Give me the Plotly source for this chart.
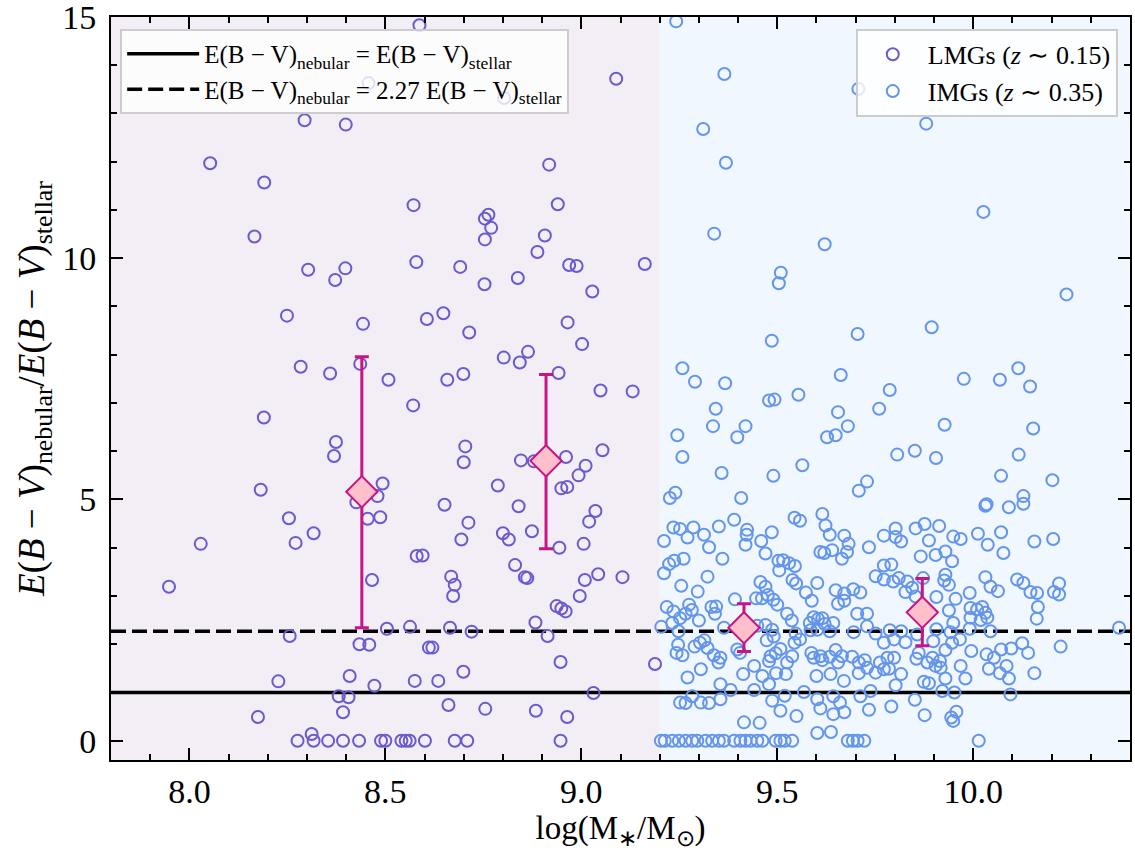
import plotly.graph_objects as go

# Axis limits and the mass split between the two samples
x_range = [7.8, 10.4]
y_range = [-0.4, 15.0]
mass_split = 9.2

# Low-mass galaxies (z ~ 0.15): log stellar mass and colour-excess ratio
lmg_x = [
    8.587, 8.457, 8.803, 9.089, 8.294, 8.399, 8.053, 8.191, 8.918, 8.572,
    8.940, 8.763, 8.754, 8.770, 8.754, 8.166, 8.907, 8.888, 8.303, 8.372,
    8.398, 8.579, 8.691, 8.753, 8.838, 8.969, 8.988, 9.162, 9.028, 8.249,
    8.443, 8.606, 8.648, 8.714, 8.965, 9.002, 8.284, 8.359, 8.436, 8.508,
    8.658, 8.699, 8.802, 8.843, 8.864, 8.942, 9.049, 9.131,
    8.571, 8.190, 8.374, 8.369, 8.704, 8.700, 8.846, 8.879, 8.961, 9.054,
    9.011, 8.993, 8.787, 8.949, 8.964, 8.182, 8.493, 8.480, 8.426, 8.455,
    8.487, 8.651, 8.840, 9.036, 9.020, 8.254, 8.317, 8.271, 8.029,
    8.712, 8.694, 8.800, 8.815, 8.874, 8.944, 9.006, 8.580, 8.595, 7.948,
    8.466, 8.668, 8.677, 8.673, 8.831, 8.856, 8.862, 9.009, 9.043, 9.105,
    8.996, 8.937, 8.949, 8.960, 8.883, 8.504, 8.563, 8.665, 8.720, 8.256,
    8.914, 8.434, 8.459, 8.611, 8.620, 8.947, 9.188, 8.409, 8.699, 8.227,
    8.575, 8.635, 8.472, 8.381, 8.406, 9.031, 8.661, 8.392, 8.755, 8.884,
    8.964, 8.175, 8.312,
    8.276, 8.317, 8.354, 8.392, 8.433, 8.489, 8.500, 8.541, 8.552, 8.562,
    8.601, 8.677, 8.709, 8.947,
]
lmg_y = [
    14.83, 13.63, 13.32, 13.72, 12.86, 12.77, 11.97, 11.57, 11.94, 11.10,
    11.12, 10.90, 10.82, 10.63, 10.39, 10.45, 10.47, 10.13, 9.76, 9.55,
    9.79, 9.92, 9.82, 9.46, 9.59, 9.86, 9.84, 9.88, 9.31, 8.81,
    8.64, 8.74, 8.86, 8.46, 8.67, 8.22, 7.75, 7.61, 7.81, 7.48,
    7.48, 7.60, 7.94, 7.84, 8.06, 7.62, 7.26, 7.24,
    6.95, 6.70, 6.19, 5.90, 6.10, 5.77, 5.81, 5.79, 5.88, 6.02,
    5.70, 5.50, 5.29, 5.23, 5.26, 5.20, 5.33, 5.07, 4.94, 4.60,
    4.63, 4.89, 4.86, 4.76, 4.54, 4.61, 4.30, 4.10, 4.08,
    4.52, 4.17, 4.30, 4.17, 4.34, 4.00, 4.08, 3.83, 3.84, 3.19,
    3.33, 3.40, 3.23, 3.00, 3.64, 3.39, 3.37, 3.33, 3.45, 3.39,
    3.00, 2.79, 2.74, 2.68, 2.45, 2.32, 2.36, 2.34, 2.26, 2.17,
    2.17, 2.00, 1.99, 1.93, 1.93, 1.63, 1.59, 1.34, 1.43, 1.23,
    1.24, 1.24, 1.14, 0.92, 0.90, 0.99, 0.74, 0.59, 0.66, 0.62,
    0.49, 0.49, 0.14,
    0.0, 0.0, 0.0, 0.0, 0.0, 0.0, 0.0, 0.0, 0.0, 0.0,
    0.0, 0.0, 0.0, 0.0,
]

# Intermediate-mass galaxies (z ~ 0.35)
img_x = [
    # upper part of the panel
    9.242, 9.365, 9.311, 9.369, 9.880, 9.339, 9.621, 10.026, 9.509, 9.504,
    10.238, 9.486, 9.705, 9.894, 9.258, 9.290, 9.367, 9.662, 9.976, 10.068,
    10.115, 10.145, 9.343, 9.479, 9.493, 9.554, 9.787, 9.655, 9.760, 9.707,
    # 9.2 < log M < 9.77
    9.245, 9.336, 9.398, 9.419, 9.258, 9.358, 9.490, 9.564, 9.627, 9.649,
    9.680, 9.729, 9.708, 9.226, 9.240, 9.408, 9.544, 9.558, 9.615, 9.390,
    9.351, 9.235, 9.252, 9.286, 9.271, 9.313, 9.211, 9.326, 9.423, 9.422,
    9.419, 9.459, 9.486, 9.470, 9.360, 9.623, 9.634, 9.671, 9.682, 9.610,
    9.620, 9.640, 9.678, 9.665, 9.734, 9.211, 9.224, 9.237, 9.261, 9.503,
    9.515, 9.530, 9.545, 9.505, 9.539, 9.548, 9.322, 9.255, 9.297, 9.457,
    9.470, 9.476, 9.461, 9.490, 9.500, 9.446, 9.392, 9.344, 9.602, 9.588,
    9.573, 9.649, 9.671, 9.671, 9.655, 9.694, 9.712, 9.751, 9.729, 9.704,
    9.218, 9.235, 9.275, 9.282, 9.252, 9.266, 9.332, 9.341, 9.300, 9.204,
    9.232, 9.248, 9.525, 9.537, 9.593, 9.604, 9.615, 9.621, 9.583, 9.585,
    9.602, 9.634, 9.643, 9.364, 9.449, 9.470, 9.487, 9.491, 9.473, 9.547,
    9.558, 9.544, 9.695, 9.729, 9.751, 9.247, 9.258, 9.243, 9.289, 9.303,
    9.314, 9.322, 9.338, 9.350, 9.355, 9.398, 9.405, 9.483, 9.479, 9.496,
    9.508, 9.538, 9.525, 9.587, 9.593, 9.610, 9.615, 9.634, 9.649, 9.665,
    9.655, 9.691, 9.708, 9.723, 9.729, 9.751, 9.762, 9.271, 9.305, 9.413,
    9.441, 9.462, 9.497, 9.522, 9.600, 9.636, 9.670, 9.708, 9.355, 9.381,
    9.441, 9.479, 9.519, 9.568, 9.602, 9.643, 9.660, 9.712, 9.738, 9.252,
    9.266, 9.283, 9.305, 9.326, 9.355, 9.487, 9.508, 9.549, 9.610, 9.643,
    9.671, 9.734, 9.415, 9.455, 9.602, 9.637,
    9.203, 9.213, 9.232, 9.249, 9.266, 9.283, 9.296, 9.317, 9.334, 9.351,
    9.364, 9.390, 9.406, 9.419, 9.432, 9.449, 9.462, 9.496, 9.508, 9.519,
    9.538, 9.680, 9.693, 9.705, 9.722,
    # log M > 9.77
    9.927, 10.153, 9.806, 9.851, 9.905, 10.116, 10.071, 10.202, 10.031, 10.034,
    10.091, 10.128, 10.128, 9.772, 9.802, 9.802, 9.816, 9.853, 9.876, 9.913,
    9.887, 9.949, 9.968, 10.012, 10.071, 10.037, 10.077, 10.156, 10.204, 9.866,
    9.904, 9.929, 9.946, 9.772, 9.791, 9.772, 9.796, 9.810, 9.832, 9.827,
    9.844, 9.853, 9.872, 9.929, 9.926, 9.938, 9.906, 9.955, 9.991, 10.031,
    10.044, 10.063, 10.112, 10.128, 10.146, 10.163, 10.165, 10.162, 10.206, 10.219,
    10.219, 9.938, 9.993, 10.010, 10.023, 10.031, 10.036, 10.019, 9.993, 9.949,
    9.787, 9.816, 9.857, 9.906, 9.942, 9.991, 10.044, 10.372, 9.772, 9.798,
    9.827, 9.861, 9.898, 9.929, 9.946, 9.966, 9.995, 10.034, 10.053, 10.071,
    10.097, 10.125, 10.140, 10.223, 9.781, 9.798, 9.772, 9.785, 9.816, 9.855,
    9.883, 9.896, 9.904, 9.915, 9.917, 9.929, 9.968, 9.980, 10.040, 10.068,
    10.085, 10.091, 10.156, 9.802, 9.874, 9.887, 9.921, 9.952, 10.095, 9.791,
    9.851, 9.876, 9.944, 9.957, 9.949, 10.014,
]
img_y = [
    14.91, 13.82, 12.68, 11.98, 12.79, 10.51, 10.29, 10.96, 9.70, 9.48,
    9.25, 8.29, 8.43, 8.57, 7.72, 7.44, 7.41, 7.58, 7.50, 7.48,
    7.72, 7.34, 6.88, 7.05, 7.07, 7.17, 7.27, 6.81, 6.88, 13.51,
    6.33, 6.52, 6.29, 6.52, 5.88, 5.55, 5.49, 5.71, 6.29, 6.33,
    6.52, 5.37, 5.18, 5.03, 5.14, 5.03, 4.62, 4.56, 4.70, 4.58,
    4.44, 4.42, 4.39, 4.42, 4.21, 4.27, 4.14, 4.01, 4.37, 4.27,
    4.06, 4.14, 4.32, 3.88, 3.77, 4.46, 4.27, 4.25, 4.08, 3.91,
    3.89, 3.95, 3.91, 3.77, 4.01, 3.47, 3.66, 3.73, 3.77, 3.73,
    3.74, 3.68, 3.62, 3.53, 3.33, 3.26, 3.40, 3.21, 3.09, 3.29,
    3.19, 3.02, 2.95, 2.92, 2.82, 2.95, 2.93, 2.78, 3.27, 2.90,
    3.07, 3.12, 3.05, 2.90, 2.84, 3.14, 3.07, 3.41, 2.63, 2.63,
    2.77, 2.68, 2.82, 2.71, 2.54, 2.63, 2.77, 2.63, 2.49, 2.36,
    2.44, 2.27, 2.63, 2.49, 2.56, 2.52, 2.54, 2.42, 2.44, 2.29,
    2.30, 2.27, 2.44, 2.34, 2.38, 2.40, 2.30, 2.16, 2.08, 2.22,
    2.10, 2.03, 2.25, 2.37, 2.22, 1.99, 1.77, 1.82, 1.95, 2.03,
    2.08, 1.92, 1.77, 1.62, 1.72, 1.89, 1.82, 1.75, 1.65, 1.81,
    1.90, 1.75, 1.62, 1.82, 1.72, 1.75, 1.67, 1.74, 1.88, 1.75,
    1.62, 1.74, 1.62, 1.67, 1.51, 1.41, 1.62, 1.31, 1.48, 1.38,
    1.55, 1.34, 1.40, 1.38, 1.34, 1.38, 1.24, 1.40, 1.17, 1.05,
    1.05, 1.17, 0.93, 1.01, 0.86, 0.92, 0.79, 0.92, 1.03, 0.79,
    0.78, 0.92, 0.79, 0.78, 0.86, 0.83, 0.62, 0.51, 0.67, 0.55,
    0.59, 0.64, 0.38, 0.37, 0.16, 0.18,
    0.0, 0.0, 0.0, 0.0, 0.0, 0.0, 0.0, 0.0, 0.0, 0.0,
    0.0, 0.0, 0.0, 0.0, 0.0, 0.0, 0.0, 0.0, 0.0, 0.0,
    0.0, 0.0, 0.0, 0.0, 0.0,
    6.55, 6.47, 5.93, 6.01, 5.86, 5.93, 5.49, 5.40, 4.87, 4.90,
    4.84, 5.07, 4.91, 4.25, 4.40, 4.22, 4.13, 4.40, 4.49, 4.45,
    4.15, 4.23, 4.18, 4.29, 4.32, 4.06, 3.89, 4.13, 4.18, 3.82,
    3.85, 3.92, 3.72, 3.63, 3.65, 3.34, 3.30, 3.37, 3.30, 3.08,
    3.17, 2.99, 3.37, 3.44, 3.32, 3.23, 2.98, 2.94, 3.06, 3.39,
    3.19, 3.10, 3.34, 3.27, 3.08, 3.06, 2.77, 2.53, 3.08, 3.03,
    3.26, 2.70, 2.75, 2.72, 2.77, 2.65, 2.55, 2.50, 2.55, 2.44,
    2.29, 2.27, 2.20, 2.31, 2.25, 2.32, 2.27, 2.34, 2.03, 2.10,
    2.04, 1.82, 2.06, 1.88, 2.03, 2.10, 1.86, 1.79, 1.72, 1.89,
    1.91, 2.02, 1.82, 1.95, 1.72, 1.72, 1.48, 1.49, 1.38, 1.70,
    1.62, 1.72, 1.55, 1.65, 1.51, 1.29, 1.55, 1.29, 1.49, 1.40,
    1.55, 1.29, 1.40, 1.15, 1.22, 1.19, 1.03, 1.00, 0.96, 0.71,
    0.85, 0.53, 0.48, 0.60, 0.41, 0.00,
]

# Binned medians with their spread
bin_x = [8.44, 8.91, 9.415, 9.87]
bin_med = [5.16, 5.80, 2.34, 2.66]
bin_hi = [7.96, 7.59, 2.84, 3.36]
bin_lo = [2.34, 3.98, 1.85, 1.97]

# Reference relations E(B-V)_neb = k * E(B-V)_star
ref_k = [1.0, 2.27]
ref_names = [
    "E(B − V)<sub>nebular</sub> = E(B − V)<sub>stellar</sub>",
    "E(B − V)<sub>nebular</sub> = 2.27 E(B − V)<sub>stellar</sub>",
]
ref_dash = ["solid", "15px,6px"]

FONT = "Liberation Serif"
LMG_COLOR = "#6a5acd"
IMG_COLOR = "#6495ed"
BIN_EDGE = "#c71585"
BIN_FILL = "#ffc0cb"

fig = go.Figure()

for k, name, dash in zip(ref_k, ref_names, ref_dash):
    fig.add_trace(go.Scatter(
        x=x_range, y=[k, k], mode="lines", name=name,
        line=dict(color="black", width=3.5, dash=dash),
        legend="legend",
    ))

fig.add_trace(go.Scatter(
    x=lmg_x, y=lmg_y, mode="markers", name="LMGs (<i>z</i> ∼ 0.15)",
    marker=dict(symbol="circle-open", size=12, color=LMG_COLOR,
                line=dict(width=2, color=LMG_COLOR)),
    legend="legend2",
))
fig.add_trace(go.Scatter(
    x=img_x, y=img_y, mode="markers", name="IMGs (<i>z</i> ∼ 0.35)",
    marker=dict(symbol="circle-open", size=12, color=IMG_COLOR,
                line=dict(width=2, color=IMG_COLOR)),
    legend="legend2",
))

err_up = [h - m for h, m in zip(bin_hi, bin_med)]
err_dn = [m - l for m, l in zip(bin_med, bin_lo)]
fig.add_trace(go.Scatter(
    x=bin_x, y=bin_med, mode="markers", showlegend=False,
    marker=dict(symbol="diamond", size=24, color=BIN_FILL,
                line=dict(width=2, color=BIN_EDGE)),
    error_y=dict(type="data", symmetric=False, array=err_up, arrayminus=err_dn,
                 color=BIN_EDGE, thickness=3, width=7),
))

# Shaded mass ranges of the two samples
fig.add_shape(type="rect", xref="x", yref="paper", x0=x_range[0], x1=mass_split,
              y0=0, y1=1, fillcolor="#f3eef6", line_width=0, layer="below")
fig.add_shape(type="rect", xref="x", yref="paper", x0=mass_split, x1=x_range[1],
              y0=0, y1=1, fillcolor="#f0f7fe", line_width=0, layer="below")

axis_common = dict(
    ticks="inside", mirror="allticks", showline=True, linecolor="black",
    linewidth=2, ticklen=12, tickwidth=2, tickcolor="black", showgrid=False,
    zeroline=False, tickfont=dict(family=FONT, size=34, color="black"),
    automargin=False, ticklabeloverflow="allow",
)

fig.update_xaxes(
    range=x_range, tick0=8.0, dtick=0.5, tickformat=".1f",
    ticklabelstandoff=0,
    minor=dict(ticks="inside", dtick=0.1, ticklen=6, tickwidth=1.5,
               tickcolor="black", showgrid=False),
    title=dict(text="log(M<sub>∗</sub>/M<sub>⊙</sub>)",
               font=dict(family=FONT, size=33, color="black"), standoff=4),
    **axis_common,
)
fig.update_yaxes(
    range=y_range, tick0=0, dtick=5,
    ticklabelstandoff=6,
    minor=dict(ticks="inside", dtick=1, ticklen=6, tickwidth=1.5,
               tickcolor="black", showgrid=False),
    title=dict(text="<i>E</i>(<i>B</i> − <i>V</i>)<sub>nebular</sub>/<i>E</i>(<i>B</i> − <i>V</i>)<sub>stellar</sub>",
               font=dict(family=FONT, size=37, color="black"), standoff=6),
    **axis_common,
)

legend_common = dict(
    bgcolor="rgba(255,255,255,0.8)", bordercolor="#cccccc", borderwidth=2,
    yanchor="top",
)
fig.update_layout(
    width=1135, height=852,
    margin=dict(l=111, r=5, t=17, b=92),
    paper_bgcolor="white", plot_bgcolor="white",
    legend=dict(x=0.009, y=0.984, xanchor="left", itemwidth=72,
                font=dict(family=FONT, size=25, color="black"), **legend_common),
    legend2=dict(x=0.988, y=0.984, xanchor="right", itemwidth=60,
                 font=dict(family=FONT, size=26, color="black"), **legend_common),
)

fig.write_html("out.html")
